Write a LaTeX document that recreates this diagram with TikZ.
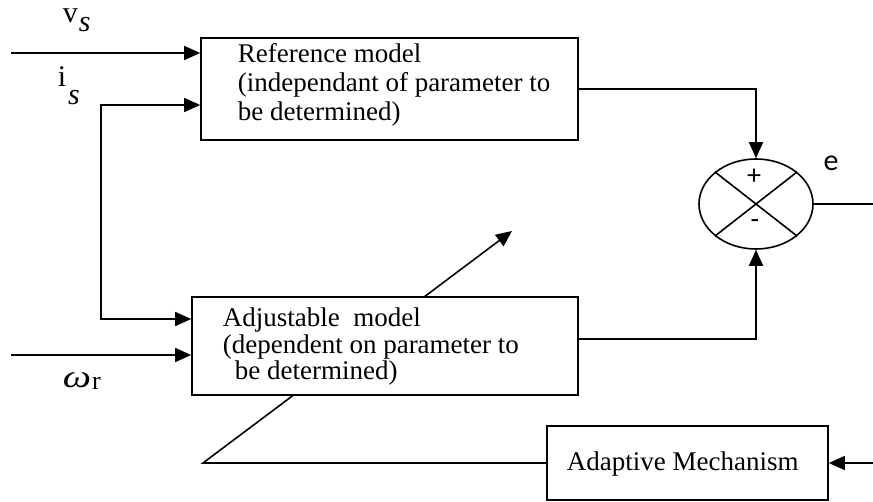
\documentclass[tikz,border=0pt]{standalone}
\usepackage{fontspec}
\setmainfont{Liberation Serif}
\newfontfamily\calfont{Carlito}
\usetikzlibrary{arrows.meta,shapes.geometric}
\begin{document}
\begin{tikzpicture}[x=1pt,y=-1pt,line width=1.6pt,
  arr/.style={-{Triangle[length=16pt,width=14pt]}},
  arrboth/.style={{Triangle[length=16pt,width=14pt]}-{Triangle[length=16pt,width=14pt]}},
  blk/.style={draw,fill=white,inner sep=0pt},
  txt/.style={anchor=base west,inner sep=0pt,font=\fontsize{27pt}{27pt}\selectfont},
  sym/.style={inner sep=0pt,font=\calfont\fontsize{28pt}{28pt}\selectfont}]
\useasboundingbox (0,0) rectangle (873,502);
% blocks
\node[blk,minimum width=377pt,minimum height=102pt] (ref) at (389.5,89) {};
\node[blk,minimum width=281pt,minimum height=74pt] (adapt) at (687.5,463) {};
\node[draw,ellipse,minimum width=114pt,minimum height=90pt,inner sep=0pt] (sum) at (756,204) {};
% feedback from adaptive mechanism (drawn before the adjustable model box)
\coordinate (fbk) at (203,463);
\coordinate (tip) at (512,231);
\draw[arr] (adapt.west) -- (fbk) -- (tip);
\node[blk,minimum width=386pt,minimum height=98pt] (adj) at (385,346) {};
% texts in blocks
\node[txt] (r1) at (237,63) {Reference model};
\node[txt] (r2) at (237,92) {(independant of parameter to};
\node[txt] (r3) at (237,121) {be determined)};
\node[txt] (a1) at (222,327) {Adjustable\ \ model};
\node[txt] (a2) at (222,354) {(dependent on parameter to};
\node[txt] (a3) at (234,380) {be determined)};
\node[txt] (m1) at (566,470) {Adaptive Mechanism};
% summing junction cross and signs
\draw (sum.38) -- (sum.218);
\draw (sum.142) -- (sum.322);
\node[sym] (plus) at (754,177) {+};
\node[sym] (minus) at (755,224) {-};
\node[inner sep=0pt,font=\calfont\fontsize{30pt}{30pt}\selectfont] (elab) at (831,163) {e};
% inputs
\coordinate (vsin) at (11,53);
\coordinate (wrin) at (11,355);
\coordinate (isbend) at (101,319);
\draw[arr] (vsin) -- ([yshift=36pt]ref.west);
\draw[arrboth] ([yshift=-16pt]ref.west) -| (isbend) -- ([yshift=27pt]adj.west);
\draw[arr] (wrin) -- ([yshift=-9pt]adj.west);
\node[anchor=base west,inner sep=0pt,font=\fontsize{30pt}{30pt}\selectfont] (vs) at (62,23) {v\kern1pt\raisebox{-9pt}{\itshape s}};
\node[anchor=base west,inner sep=0pt,font=\fontsize{30pt}{30pt}\selectfont] (is) at (57,87) {i\kern2pt\raisebox{-18pt}{\itshape s}};
\node[anchor=base west,inner sep=0pt,font=\fontsize{32pt}{32pt}\selectfont] (wr) at (62,388) {\scalebox{1.25}[1]{\itshape ω}\kern1pt\raisebox{-2pt}{\fontsize{26pt}{26pt}\selectfont r}};
% to summing junction
\draw[arr] (ref.east) -| (sum.north);
\draw[arr] ([yshift=7pt]adj.east) -| (sum.south);
\coordinate (eout) at (873,204);
\draw (sum.east) -- (eout);
% input of adaptive mechanism
\coordinate (ein) at (873,463);
\draw[arr] (ein) -- (adapt.east);
\end{tikzpicture}
\end{document}
